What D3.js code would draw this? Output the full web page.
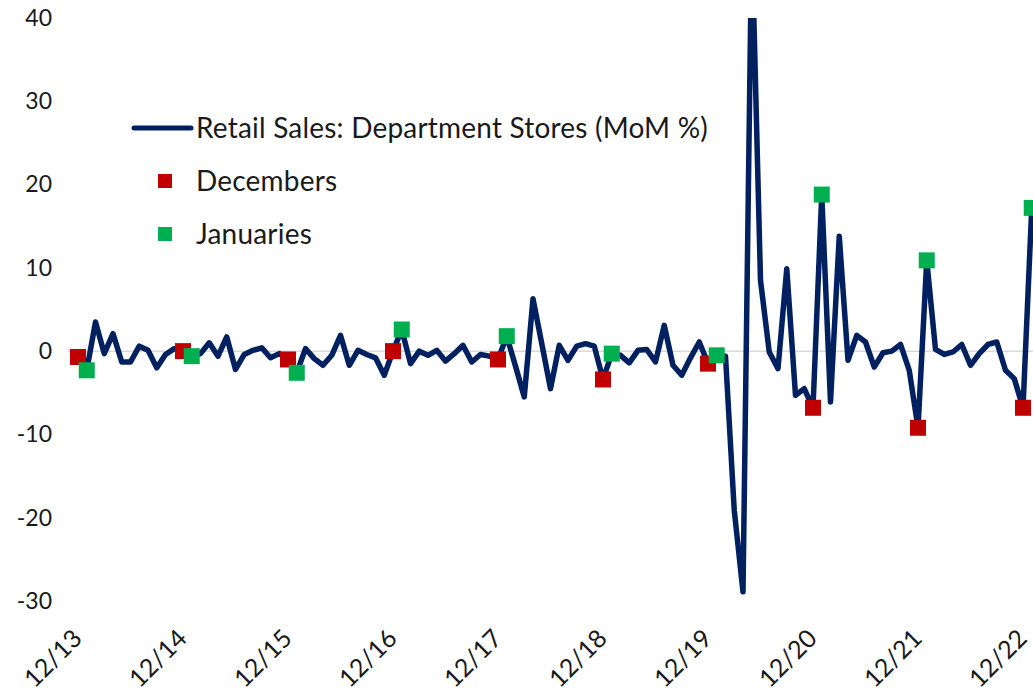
<!DOCTYPE html>
<html>
<head>
<meta charset="utf-8">
<script src="https://cdn.jsdelivr.net/npm/d3@7"></script>
<style>
    body { margin: 0; background: #fff; }
    text { font-family: Lato, "Open Sans", sans-serif; }
</style>
</head>
<body>
<div id="canva"></div>
<script>
// monthly MoM % change, Dec 2013 .. Jan 2023
const startMonth = new Date(2013, 11, 1);
const endMonth = new Date(2023, 1, 1);
const months = d3.timeMonth.range(startMonth, endMonth);

const salesMoM = [
    -0.7,                                                          // 12/13
    -2.3, 3.5, -0.3, 2.1, -1.3, -1.3, 0.6, 0.1, -2.0, -0.4, 0.3, 0.0,   // 2014
    -0.6, -0.3, 1.0, -0.6, 1.7, -2.2, -0.4, 0.1, 0.4, -0.8, -0.3, -1.0, // 2015
    -2.6, 0.3, -0.9, -1.7, -0.5, 1.9, -1.7, 0.1, -0.4, -0.8, -2.9, 0.0, // 2016
    2.6, -1.5, 0.0, -0.5, 0.1, -1.2, -0.3, 0.7, -1.3, -0.4, -0.6, -1.0, // 2017
    1.8, -1.8, -5.5, 6.3, 0.9, -4.5, 0.7, -1.1, 0.6, 0.9, 0.6, -3.4,    // 2018
    -0.3, -0.5, -1.4, 0.1, 0.2, -1.3, 3.1, -1.7, -2.9, -0.8, 1.1, -1.5, // 2019
    -0.5, -0.6, -19.1, -28.9, 50.0, 8.5, -0.1, -2.1, 9.9, -5.3, -4.5, -6.8, // 2020
    18.8, -6.1, 13.8, -1.1, 1.9, 1.1, -1.9, -0.2, 0.0, 0.8, -2.3, -9.2, // 2021
    10.9, 0.2, -0.4, -0.1, 0.8, -1.7, -0.3, 0.8, 1.1, -2.3, -3.3, -6.8, // 2022
    17.2                                                           // 01/23
];

const yTicks = [-30, -20, -10, 0, 10, 20, 30, 40];
const xTickLabels = ['12/13', '12/14', '12/15', '12/16', '12/17', '12/18', '12/19', '12/20', '12/21', '12/22'];

const seriesName = 'Retail Sales: Department Stores (MoM %)';
const decName = 'Decembers';
const janName = 'Januaries';

const navy = '#002060';
const red = '#c00000';
const green = '#00b050';
const textColor = '#1a1a1a';

const width = 1033, height = 694;
const fmtKey = d3.timeFormat('%Y-%m');

const data = months.map((m, i) => ({ key: fmtKey(m), month: m.getMonth(), value: salesMoM[i] }));

const svg = d3.select('#canva').append('svg')
    .attr('width', width)
    .attr('height', height)
    .style('display', 'block');

const x = d3.scalePoint()
    .domain(data.map(d => d.key))
    .range([78, 1031.75]);

const y = d3.scaleLinear()
    .domain([-30, 40])
    .range([601, 18]);

svg.append('defs').append('clipPath')
    .attr('id', 'plot-clip')
    .append('rect')
    .attr('x', 0)
    .attr('y', y(40))
    .attr('width', width)
    .attr('height', y(-30) - y(40) + 20);

// zero line (category axis)
svg.append('line')
    .attr('x1', 68)
    .attr('x2', width)
    .attr('y1', y(0))
    .attr('y2', y(0))
    .attr('stroke', '#d9d9d9')
    .attr('stroke-width', 1.5);

// y axis labels
const yAxis = svg.append('g')
    .attr('transform', 'translate(56,0)')
    .call(d3.axisLeft(y).tickValues(yTicks).tickSize(0).tickPadding(4)
        .tickFormat(d => String(d)));
yAxis.select('.domain').remove();
yAxis.selectAll('text')
    .attr('font-family', 'Lato, "Open Sans", sans-serif')
    .attr('font-size', 23)
    .attr('fill', textColor);

// x axis labels, rotated
const decKeys = data.filter(d => d.month === 11).map(d => d.key);
const xAxis = svg.append('g')
    .attr('transform', 'translate(0,640)')
    .call(d3.axisBottom(x).tickValues(decKeys).tickSize(0)
        .tickFormat((d, i) => xTickLabels[i]));
xAxis.select('.domain').remove();
xAxis.selectAll('text')
    .attr('x', 0)
    .attr('y', 0)
    .attr('dy', 0)
    .attr('text-anchor', 'end')
    .attr('transform', 'translate(5,0) rotate(-45)')
    .attr('font-family', 'Lato, "Open Sans", sans-serif')
    .attr('font-size', 25)
    .attr('fill', textColor);

// series line
const line = d3.line()
    .x(d => x(d.key))
    .y(d => y(d.value));

svg.append('path')
    .datum(data)
    .attr('clip-path', 'url(#plot-clip)')
    .attr('d', line)
    .attr('fill', 'none')
    .attr('stroke', navy)
    .attr('stroke-width', 5.5)
    .attr('stroke-linejoin', 'round')
    .attr('stroke-linecap', 'round');

// december / january markers
const markSize = 16;
svg.selectAll('rect.dec')
    .data(data.filter(d => d.month === 11))
    .enter()
    .append('rect')
    .attr('class', 'dec')
    .attr('x', d => x(d.key) - markSize / 2)
    .attr('y', d => y(d.value) - markSize / 2)
    .attr('width', markSize)
    .attr('height', markSize)
    .attr('fill', red);

svg.selectAll('rect.jan')
    .data(data.filter(d => d.month === 0))
    .enter()
    .append('rect')
    .attr('class', 'jan')
    .attr('x', d => x(d.key) - markSize / 2)
    .attr('y', d => y(d.value) - markSize / 2)
    .attr('width', markSize)
    .attr('height', markSize)
    .attr('fill', green);

// legend
const legend = svg.append('g')
    .attr('font-size', 28)
    .attr('letter-spacing', 0.2)
    .attr('fill', textColor);
legend.append('line')
    .attr('x1', 134).attr('x2', 191)
    .attr('y1', 128).attr('y2', 128)
    .attr('stroke', navy)
    .attr('stroke-width', 5)
    .attr('stroke-linecap', 'round');
legend.append('text')
    .attr('x', 196).attr('y', 138)
    .text(seriesName);

legend.append('rect')
    .attr('x', 158).attr('y', 174)
    .attr('width', 14).attr('height', 14)
    .attr('fill', red);
legend.append('text')
    .attr('x', 196).attr('y', 191)
    .text(decName);

legend.append('rect')
    .attr('x', 158).attr('y', 227)
    .attr('width', 14).attr('height', 14)
    .attr('fill', green);
legend.append('text')
    .attr('x', 196).attr('y', 244)
    .text(janName);
</script>
</body>
</html>
